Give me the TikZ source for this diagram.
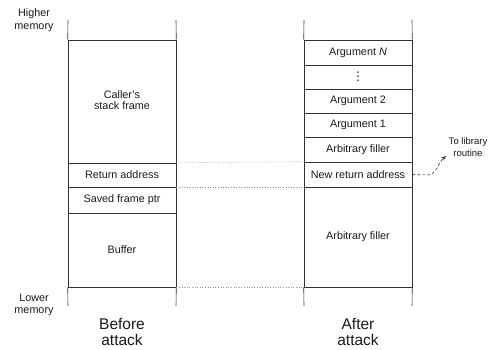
\documentclass[tikz,border=0pt]{standalone}
\usepackage{fontspec}
\setmainfont{Liberation Sans}
\newfontfamily\symfont{DejaVu Sans}
\usetikzlibrary{arrows.meta}
\begin{document}
\begin{tikzpicture}[x=1pt,y=-1pt,
  line/.style={draw=black!80,line width=0.6pt},
  cell/.style={line,rectangle,inner sep=0pt,minimum width=108pt,font=\fontsize{10.8}{12}\selectfont,text=black!90},
  memlbl/.style={align=center,font=\fontsize{10.8}{12.5}\selectfont,text=black!90},
  caption/.style={align=center,font=\fontsize{15.5}{16.5}\selectfont,text=black!90},
  guide/.style={draw=black!45,dotted,line width=0.6pt}]
\useasboundingbox (0,0) rectangle (494,349);
% left stack
\node[cell,minimum height=123pt] (caller) at (122,101.5) {\begin{tabular}{@{}c@{}}Caller's\\[-1pt]stack frame\end{tabular}};
\node[cell,minimum height=24pt] (ret) at (122,175) {Return address};
\node[cell,minimum height=26pt] (sfp) at (122,200) {Saved frame ptr};
\node[cell,minimum height=74pt] (buf) at (122,250) {Buffer};
\coordinate (lt1) at (68,20); \coordinate (lt2) at (176,20);
\coordinate (lb1) at (68,306); \coordinate (lb2) at (176,306);
\draw[line] (lt1) -- (caller.north west) (lt2) -- (caller.north east);
\draw[line] (lb1) -- (buf.south west) (lb2) -- (buf.south east);
% right stack
\node[cell,minimum height=25pt] (argn) at (358,52.5) {Argument \textit{N}};
\node[cell,minimum height=24pt] (dots) at (358,77) {\symfont\fontsize{12}{12}\selectfont ⋮};
\node[cell,minimum height=24pt] (arg2) at (358,101) {Argument 2};
\node[cell,minimum height=24pt] (arg1) at (358,125) {Argument 1};
\node[cell,minimum height=25pt] (fill1) at (358,149.5) {Arbitrary filler};
\node[cell,minimum height=25pt] (newret) at (358,174.5) {New return address};
\node[cell,minimum height=100pt] (fill2) at (358,237) {Arbitrary filler};
\coordinate (rt1) at (304,20); \coordinate (rt2) at (412,20);
\coordinate (rb1) at (304,306); \coordinate (rb2) at (412,306);
\draw[line] (rt1) -- (argn.north west) (rt2) -- (argn.north east);
\draw[line] (rb1) -- (fill2.south west) (rb2) -- (fill2.south east);
% guides
\draw[guide] (ret.north east) -- (newret.north west);
\draw[guide] (ret.south east) -- (newret.south west);
\draw[guide] (buf.south east) -- (fill2.south west);
% labels
\node[memlbl] (hi) at (34,20) {Higher\\memory};
\node[memlbl] (lo) at (34,305) {Lower\\memory};
\node[caption] (before) at (122,332) {Before\\attack};
\node[caption] (after) at (358,332) {After\\attack};
\node[memlbl,font=\fontsize{9.5}{12}\selectfont] (lib) at (468,147) {To library\\routine};
\coordinate (bend) at (428,175);
\draw[draw=black!80,densely dashed,line width=0.6pt,-{Stealth[length=5pt,width=4pt]}]
  (newret.east) -- (bend) .. controls (436,175) and (438,163) .. (446,156);
\end{tikzpicture}
\end{document}
